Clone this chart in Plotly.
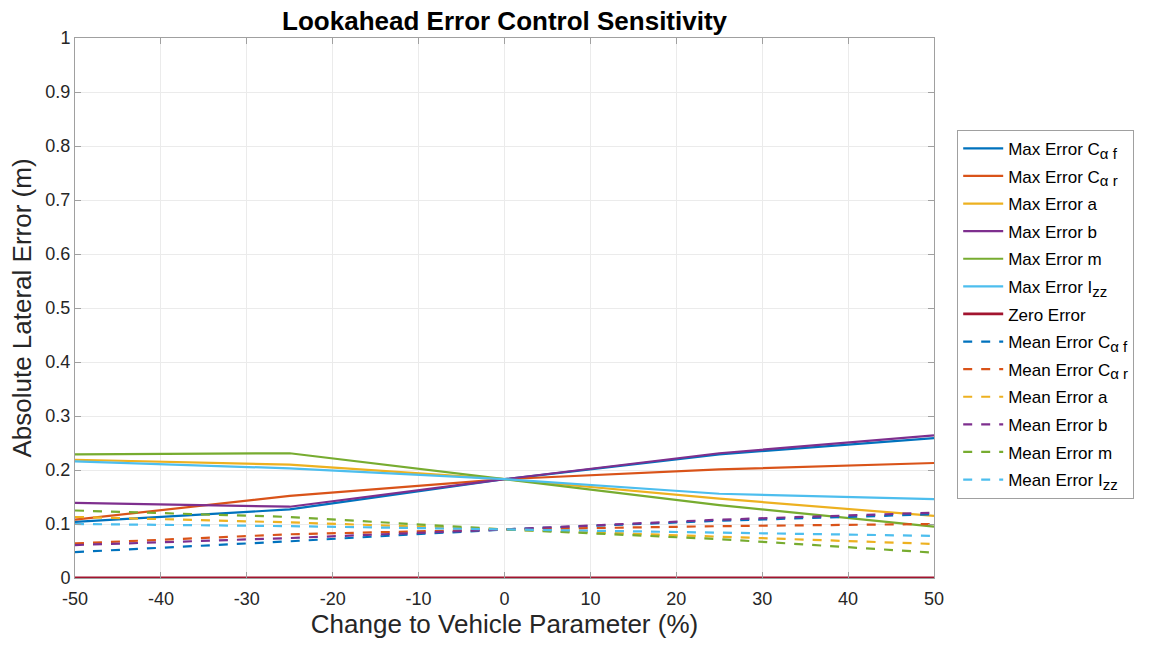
import plotly.graph_objects as go

# Percent change applied to each vehicle parameter
pct_change = [-50, -25, 0, 25, 50]

# Maximum absolute lateral error (m)
max_caf = [0.104, 0.127, 0.183, 0.229, 0.259]
max_car = [0.108, 0.152, 0.183, 0.201, 0.213]
max_a = [0.219, 0.210, 0.183, 0.147, 0.115]
max_b = [0.139, 0.132, 0.183, 0.231, 0.264]
max_m = [0.229, 0.231, 0.183, 0.135, 0.095]
max_izz = [0.216, 0.203, 0.183, 0.156, 0.146]
zero_err = [0, 0, 0, 0, 0]

# Mean absolute lateral error (m)
mean_caf = [0.048, 0.068, 0.090, 0.106, 0.118]
mean_car = [0.064, 0.081, 0.090, 0.096, 0.100]
mean_a = [0.113, 0.103, 0.090, 0.077, 0.063]
mean_b = [0.061, 0.074, 0.090, 0.108, 0.121]
mean_m = [0.125, 0.113, 0.090, 0.072, 0.047]
mean_izz = [0.100, 0.096, 0.090, 0.084, 0.078]

x_ticks = list(range(-50, 51, 10))
x_ticktext = [str(v) for v in x_ticks]
y_ticks = [i / 10 for i in range(11)]
y_ticktext = ["0", "0.1", "0.2", "0.3", "0.4", "0.5", "0.6", "0.7", "0.8", "0.9", "1"]

colors = ["#0072BD", "#D95319", "#EDB120", "#7E2F8E", "#77AC30", "#4DBEEE", "#A2142F"]

sub_style = "<sub><span style='font-size:15px'>{}</span></sub>"
max_series = [
    ("Max Error C" + sub_style.format("α f"), max_caf),
    ("Max Error C" + sub_style.format("α r"), max_car),
    ("Max Error a", max_a),
    ("Max Error b", max_b),
    ("Max Error m", max_m),
    ("Max Error I" + sub_style.format("zz"), max_izz),
]
mean_series = [
    ("Mean Error C" + sub_style.format("α f"), mean_caf),
    ("Mean Error C" + sub_style.format("α r"), mean_car),
    ("Mean Error a", mean_a),
    ("Mean Error b", mean_b),
    ("Mean Error m", mean_m),
    ("Mean Error I" + sub_style.format("zz"), mean_izz),
]

fig = go.Figure()
k = 0
for i, (name, vals) in enumerate(max_series):
    fig.add_trace(go.Scatter(x=pct_change, y=vals, mode="lines", name=name,
                             legendgroup=f"g{k}",
                             line=dict(color=colors[i], width=2.2)))
    k += 1
fig.add_trace(go.Scatter(x=pct_change, y=zero_err, mode="lines", name="Zero Error",
                         legendgroup=f"g{k}",
                         line=dict(color=colors[6], width=2.8)))
k += 1
for i, (name, vals) in enumerate(mean_series):
    fig.add_trace(go.Scatter(x=pct_change, y=vals, mode="lines", name=name,
                             legendgroup=f"g{k}",
                             line=dict(color=colors[i], width=2.2, dash="dash")))
    k += 1

axis_common = dict(
    showgrid=True, gridcolor="#EBEBEB", gridwidth=1,
    showline=True, linecolor="#A0A0A0", linewidth=1, mirror="ticks",
    ticks="inside", ticklen=6, tickcolor="#A0A0A0",
    tickfont=dict(family="Liberation Sans, Arial, sans-serif", size=18, color="#262626"),
    zeroline=False,
)

fig.update_layout(
    width=1152, height=646,
    margin=dict(l=75, r=218, t=38, b=68),
    paper_bgcolor="white", plot_bgcolor="white",
    font=dict(family="Liberation Sans, Arial, sans-serif", color="#262626"),
    title=dict(text="<b>Lookahead Error Control Sensitivity</b>", x=0.438, xanchor="center",
               y=0.968, yanchor="middle",
               font=dict(size=26, color="black")),
    xaxis=dict(range=[-50, 50], tickmode="array", tickvals=x_ticks, ticktext=x_ticktext,
               ticklabelstandoff=4,
               title=dict(text="Change to Vehicle Parameter (%)", standoff=6,
                          font=dict(size=26, color="#262626")),
               **axis_common),
    yaxis=dict(range=[0, 1], tickmode="array", tickvals=y_ticks, ticktext=y_ticktext,
               title=dict(text="Absolute Lateral Error (m)", standoff=6,
                          font=dict(size=26, color="#262626")),
               **axis_common),
    legend=dict(x=1.027, y=0.83, xanchor="left", yanchor="top",
                bgcolor="white", bordercolor="#A0A0A0", borderwidth=1,
                font=dict(size=17, color="black"), tracegroupgap=2.5,
                itemwidth=40),
    showlegend=True,
)

fig.write_html("out.html")
